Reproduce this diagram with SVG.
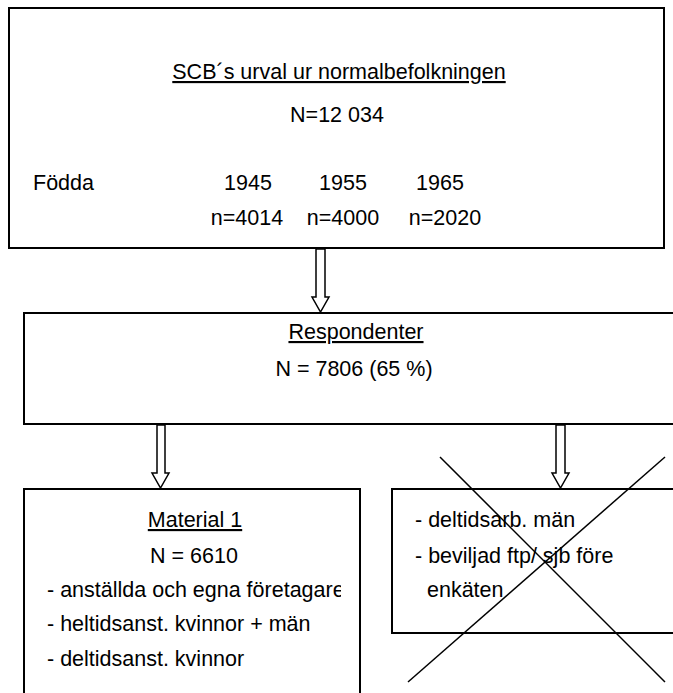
<svg xmlns="http://www.w3.org/2000/svg" width="673" height="693" viewBox="0 0 673 693">
<style>
.box{fill:#fff;stroke:#000;stroke-width:2}
.t{font-family:"Liberation Sans",Arial,sans-serif;font-size:21.5px;fill:#000}
.c{text-anchor:middle}
.u{text-decoration:underline}
.arr{fill:#fff;stroke:#000;stroke-width:1.5;stroke-linejoin:miter}
.x{stroke:#000;stroke-width:1.5;fill:none}
</style>
<defs>
<clipPath id="clipM"><rect x="24" y="489" width="317" height="210"/></clipPath>
</defs>
<rect width="673" height="693" fill="#fff"/>
<g id="connectors">
<path class="arr" d="M316,249 V297 H312 L320.5,312 L329,297 H325 V249 Z"/>
<path class="arr" d="M157,425 V473 H152 L160.5,488 L169,473 H165 V425 Z"/>
<path class="arr" d="M556,425 V473 H552 L560.5,488 L569,473 H565 V425 Z"/>
</g>
<g id="node-scb">
<rect class="box" x="9" y="8" width="655" height="240"/>
<text class="t c u" x="339" y="79">SCB´s urval ur normalbefolkningen</text>
<text class="t c" x="337" y="122">N=12 034</text>
<text class="t" x="33" y="190">Födda</text>
<text class="t c" x="248" y="190">1945</text>
<text class="t c" x="343" y="190">1955</text>
<text class="t c" x="440" y="190">1965</text>
<text class="t c" x="247" y="225">n=4014</text>
<text class="t c" x="343" y="225">n=4000</text>
<text class="t c" x="445" y="225">n=2020</text>
</g>
<g id="node-respondenter">
<rect class="box" x="24" y="313" width="660" height="111"/>
<text class="t c u" x="356" y="339">Respondenter</text>
<text class="t c" x="354" y="376">N = 7806 (65 %)</text>
</g>
<g id="node-material1">
<rect class="box" x="24" y="489" width="336" height="220"/>
<text class="t c u" x="195" y="527">Material 1</text>
<text class="t c" x="194" y="563">N = 6610</text>
<g clip-path="url(#clipM)">
<text class="t" x="47" y="597">- anställda och egna företagare</text>
</g>
<text class="t" x="47" y="631">- heltidsanst. kvinnor + män</text>
<text class="t" x="47" y="666">- deltidsanst. kvinnor</text>
</g>
<g id="node-excluded">
<rect class="box" x="392" y="489" width="290" height="144"/>
<text class="t" x="415" y="527">- deltidsarb. män</text>
<text class="t" x="415" y="563">- beviljad ftp/ sjb före</text>
<text class="t" x="427" y="597">enkäten</text>
<line class="x" x1="440" y1="457" x2="665" y2="682"/>
<line class="x" x1="665" y1="457" x2="408" y2="682"/>
</g>
</svg>
